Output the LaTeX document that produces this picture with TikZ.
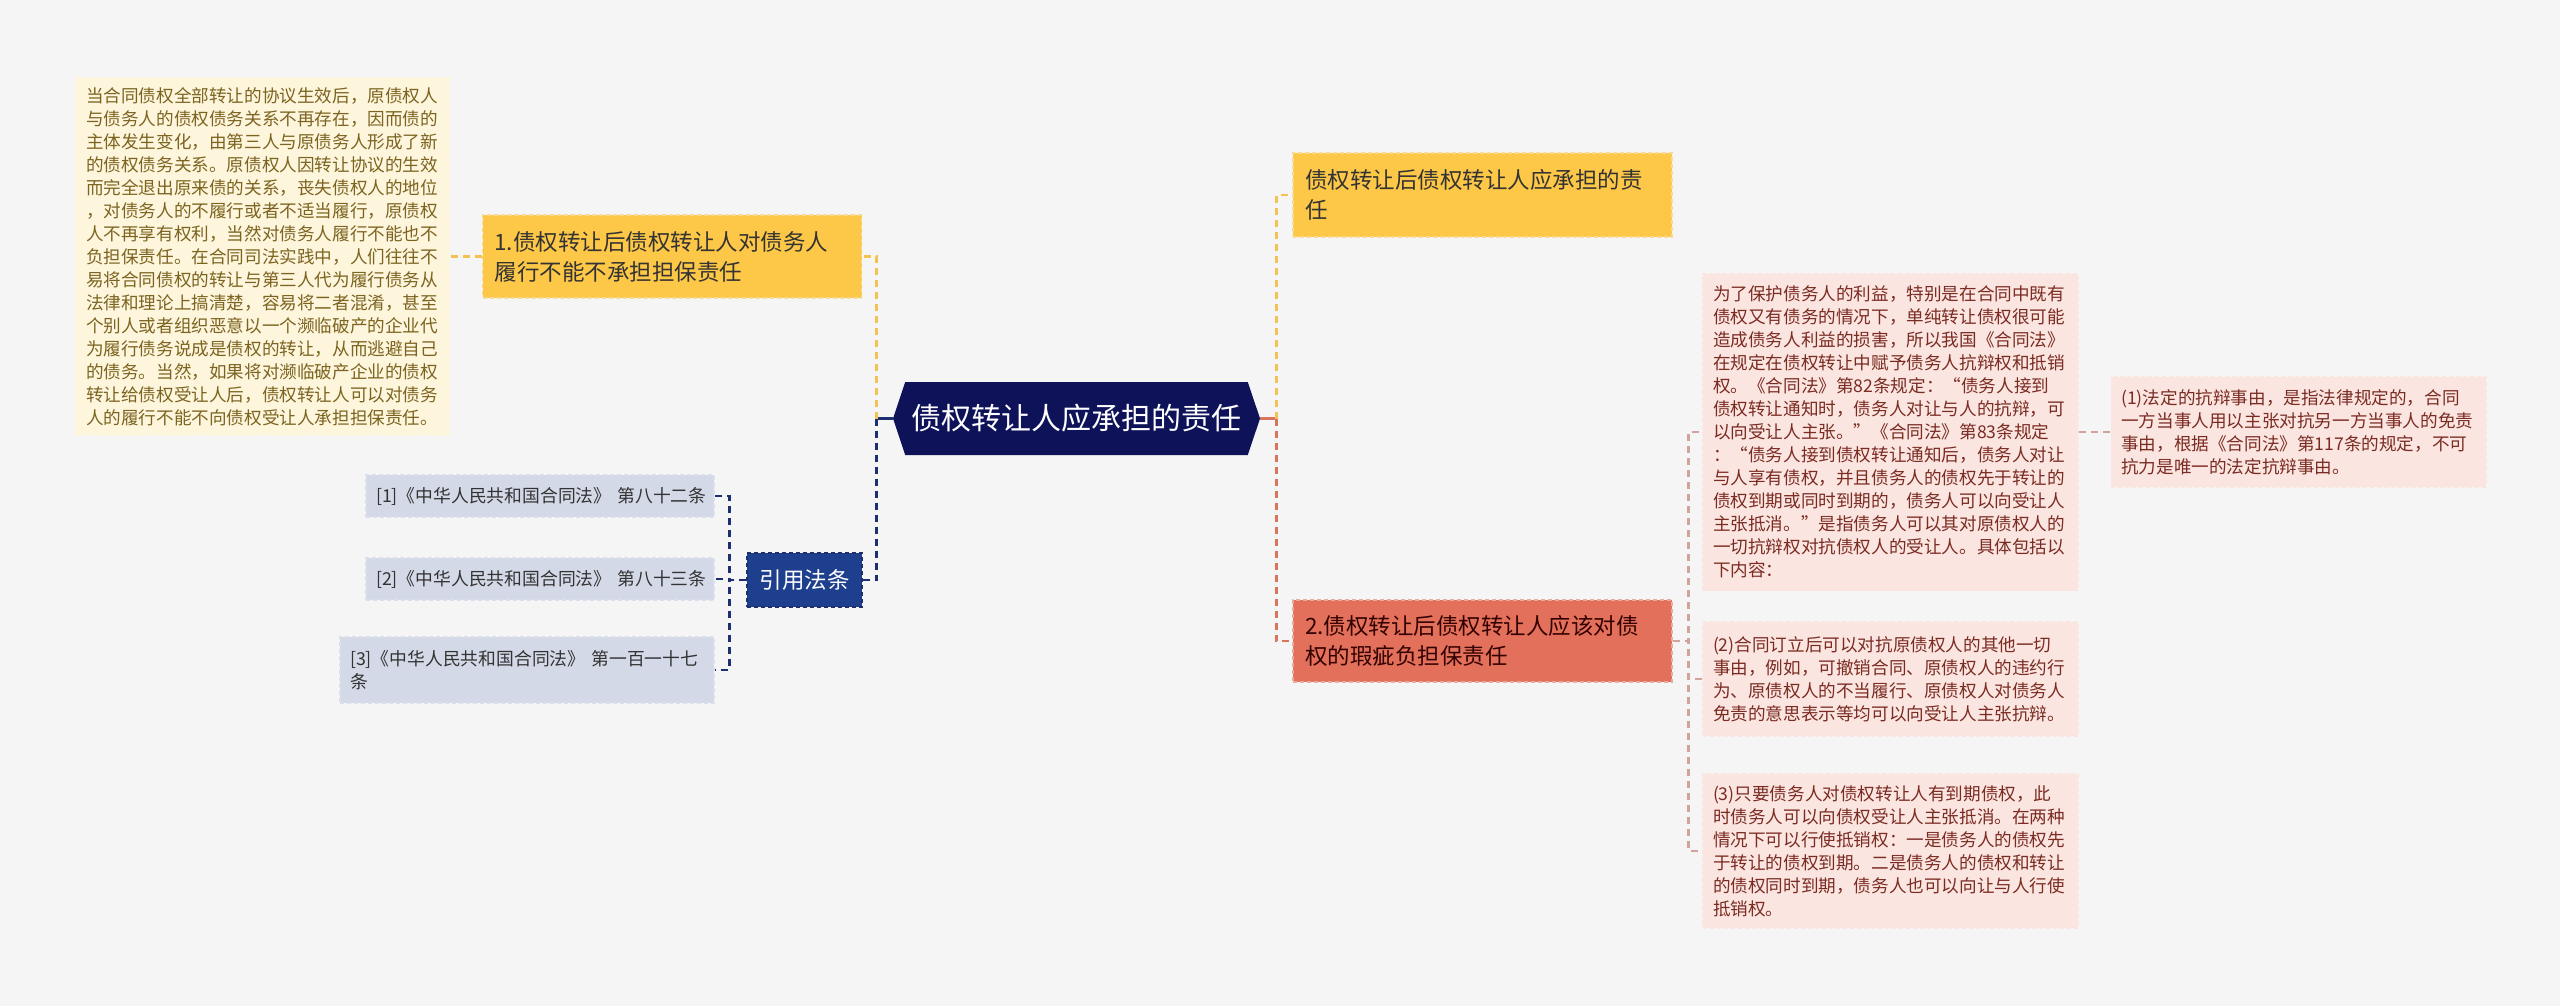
\documentclass[tikz,border=0pt]{standalone}
\usepackage{fontspec}
\setmainfont{Noto Sans CJK SC}
\usetikzlibrary{positioning,shapes.symbols}
\definecolor{bgcol}{HTML}{F5F5F5}
\definecolor{rootcol}{HTML}{0E1259}
\definecolor{yelcol}{HTML}{FDC747}
\definecolor{yelline}{HTML}{F3C251}
\definecolor{redcol}{HTML}{E3705A}
\definecolor{redline}{HTML}{D9745E}
\definecolor{navycol}{HTML}{1E3F8D}
\definecolor{navyline}{HTML}{1D2F6F}
\definecolor{creamcol}{HTML}{FDF5DC}
\definecolor{creamtext}{HTML}{7C6420}
\definecolor{pinkcol}{HTML}{FBE5E0}
\definecolor{pinktext}{HTML}{7A2B22}
\definecolor{pinkline}{HTML}{D2A39A}
\definecolor{citecol}{HTML}{D4D9E8}

\begin{document}
\begin{tikzpicture}[x=1pt,y=-1pt,
conn/.style={line width=2.6pt,dash pattern=on 7pt off 5pt},
box/.style={rectangle,inner xsep=10pt,inner ysep=0pt,align=left,line width=1.2pt,dash pattern=on 4pt off 3pt},
root node/.style={signal,signal to=west and east,signal pointer angle=143,fill=rootcol,text=white,
  font=\fontsize{30}{36}\selectfont,minimum height=73pt,minimum width=367pt,inner xsep=0pt},
topic node/.style={box,inner xsep=12pt,text width=355pt,minimum height=83pt,font=\fontsize{22.5}{30}\selectfont},
leaf node/.style={box,text width=355pt,font=\fontsize{17.6}{23}\selectfont},
cite node/.style={box,fill=citecol,draw=citecol!85!white,text=black!80,font=\fontsize{17.8}{23}\selectfont}]

\fill[bgcol] (0,0) rectangle (2560,1006);
\useasboundingbox (0,0) rectangle (2560,1006);

\node[root node] (root) at (1076.5,418.5) {债权转让人应承担的责任};

% left side
\node[topic node,fill=yelcol,draw=yelline!60!white,text=black!80] (t1) at (672,256.5)
  {1.债权转让后债权转让人对债务人\\履行不能不承担担保责任};
\node[leaf node,text width=353pt,minimum height=357pt,fill=creamcol,draw=creamcol,text=creamtext] (ll) at (262.5,256.5)
  {当合同债权全部转让的协议生效后，原债权人\\与债务人的债权债务关系不再存在，因而债的\\主体发生变化，由第三人与原债务人形成了新\\的债权债务关系。原债权人因转让协议的生效\\而完全退出原来债的关系，丧失债权人的地位\\，对债务人的不履行或者不适当履行，原债权\\人不再享有权利，当然对债务人履行不能也不\\负担保责任。在合同司法实践中，人们往往不\\易将合同债权的转让与第三人代为履行债务从\\法律和理论上搞清楚，容易将二者混淆，甚至\\个别人或者组织恶意以一个濒临破产的企业代\\为履行债务说成是债权的转让，从而逃避自己\\的债务。当然，如果将对濒临破产企业的债权\\转让给债权受让人后，债权转让人可以对债务\\人的履行不能不向债权受让人承担担保责任。};
\node[box,fill=navycol,draw=navyline,text=white,minimum width=115pt,minimum height=54pt,inner xsep=0pt,
  font=\fontsize{22.5}{28}\selectfont] (cite) at (804.5,580) {引用法条};
\node[cite node,text width=328pt,minimum height=42pt] (c1) at (540,496) {[1]《中华人民共和国合同法》~第八十二条};
\node[cite node,text width=328pt,minimum height=42pt] (c2) at (540,579) {[2]《中华人民共和国合同法》~第八十三条};
\node[cite node,text width=354pt,minimum height=66pt] (c3) at (527,670) {[3]《中华人民共和国合同法》 第一百一十七\\条};

% right side
\node[topic node,minimum height=84pt,fill=yelcol,draw=yelline!60!white,text=black!80] (ta) at (1482.5,195)
  {债权转让后债权转让人应承担的责\\任};
\node[topic node,minimum height=82pt,fill=redcol,draw=redline!60!white,text=black!80!red] (tb) at (1482.5,641)
  {2.债权转让后债权转让人应该对债\\权的瑕疵负担保责任};
\node[leaf node,minimum height=317pt,fill=pinkcol,draw=pinkcol,text=pinktext] (lp) at (1890.5,432)
  {为了保护债务人的利益，特别是在合同中既有\\债权又有债务的情况下，单纯转让债权很可能\\造成债务人利益的损害，所以我国《合同法》\\在规定在债权转让中赋予债务人抗辩权和抵销\\权。《合同法》第82条规定：“债务人接到\\债权转让通知时，债务人对让与人的抗辩，可\\以向受让人主张。”《合同法》第83条规定\\：“债务人接到债权转让通知后，债务人对让\\与人享有债权，并且债务人的债权先于转让的\\债权到期或同时到期的，债务人可以向受让人\\主张抵消。”是指债务人可以其对原债权人的\\一切抗辩权对抗债权人的受让人。具体包括以\\下内容：};
\node[leaf node,minimum height=110pt,fill=pinkcol,draw=pinkcol,text=pinktext,right=32pt of lp] (l1)
  {(1)法定的抗辩事由，是指法律规定的，合同\\一方当事人用以主张对抗另一方当事人的免责\\事由，根据《合同法》第117条的规定，不可\\抗力是唯一的法定抗辩事由。};
\node[leaf node,minimum height=114pt,fill=pinkcol,draw=pinkcol,text=pinktext] (l2) at (1890.5,679)
  {(2)合同订立后可以对抗原债权人的其他一切\\事由，例如，可撤销合同、原债权人的违约行\\为、原债权人的不当履行、原债权人对债务人\\免责的意思表示等均可以向受让人主张抗辩。};
\node[leaf node,minimum height=154pt,fill=pinkcol,draw=pinkcol,text=pinktext] (l3) at (1890.5,851)
  {(3)只要债务人对债权转让人有到期债权，此\\时债务人可以向债权受让人主张抵消。在两种\\情况下可以行使抵销权：一是债务人的债权先\\于转让的债权到期。二是债务人的债权和转让\\的债权同时到期，债务人也可以向让与人行使\\抵销权。};

% connectors
\draw[line width=2.6pt,navyline] (root.west) -- ++(-16,0);
\draw[conn,yelline] ([xshift=-16pt]root.west) |- (t1.east);
\draw[conn,navyline] ([xshift=-16pt]root.west) |- (cite.east);
\draw[conn,yelline] (t1.west) -- (ll.east);
\draw[conn,navyline] (cite.west) -- ++(-17,0) |- (c1.east);
\draw[conn,navyline] (cite.west) -- ++(-17,0) |- (c2.east);
\draw[conn,navyline] (cite.west) -- ++(-17,0) |- (c3.east);
\draw[line width=2.6pt,redline] (root.east) -- ++(16,0);
\draw[conn,yelline] ([xshift=16pt]root.east) |- (ta.west);
\draw[conn,redline] ([xshift=16pt]root.east) |- (tb.west);
\draw[conn,pinkline] (tb.east) -- ++(16,0) |- (lp.west);
\draw[conn,pinkline] (tb.east) -- ++(16,0) |- (l2.west);
\draw[conn,pinkline] (tb.east) -- ++(16,0) |- (l3.west);
\draw[conn,pinkline] (lp.east) -- (l1.west);
\end{tikzpicture}
\end{document}
